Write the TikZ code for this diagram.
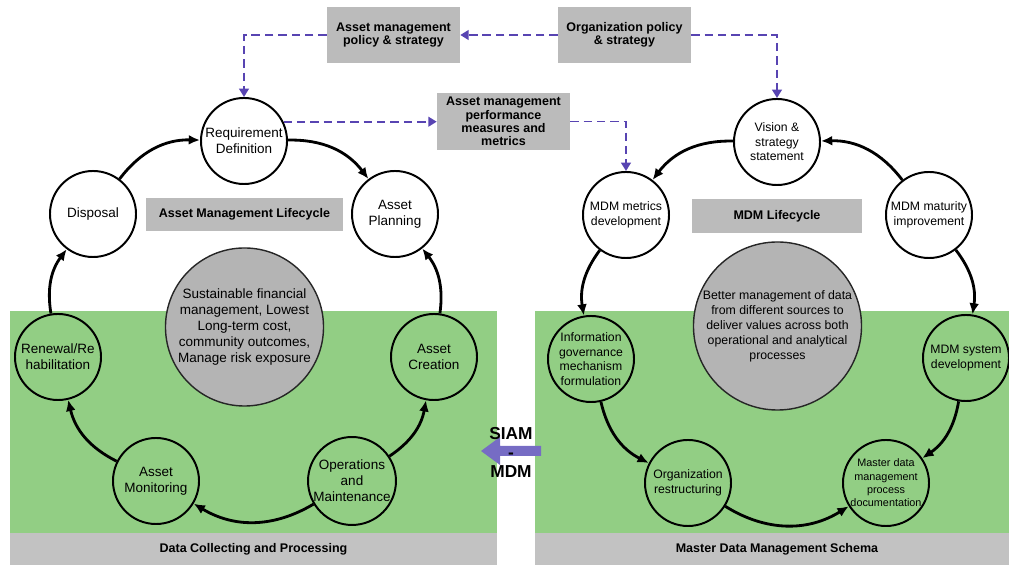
\documentclass[tikz,border=0pt]{standalone}
\usepackage{fontspec}
\setmainfont{Liberation Sans}
\usetikzlibrary{arrows.meta}

\definecolor{panelgreen}{RGB}{146,206,132}
\definecolor{tagfill}{RGB}{187,187,187}
\definecolor{stripfill}{RGB}{194,194,194}
\definecolor{goalfill}{RGB}{180,180,180}
\definecolor{policyblue}{RGB}{88,68,178}
\definecolor{siamblue}{RGB}{118,108,196}

\tikzset{
  stage/.style={circle,draw,line width=1.4pt,inner sep=0pt,minimum size=2.15cm,
    align=center,font=\fontsize{9.6}{11.4}\selectfont},
  mstage/.style={stage,font=\fontsize{8.7}{10.4}\selectfont},
  goal/.style={circle,draw=black!85,line width=1pt,fill=goalfill,inner sep=0pt,align=center},
  tag/.style={fill=tagfill,inner sep=0pt,align=center,font=\bfseries\fontsize{8.9}{9.5}\selectfont},
  stripname/.style={font=\bfseries\fontsize{8.9}{9.5}\selectfont},
  flow/.style={line width=2pt,-{Latex[length=8pt,width=7pt]}},
  policyline/.style={policyblue,line width=1.3pt,dash pattern=on 6pt off 3.5pt,
    -{Triangle[length=6pt,width=7pt]}}
}

\begin{document}
\begin{tikzpicture}[x=0.025cm,y=0.025cm]
\useasboundingbox (0,0) rectangle (1009,565);

\fill[panelgreen] (10,32) rectangle (497,254);
\fill[panelgreen] (535,32) rectangle (1009,254);
\fill[stripfill] (10,0) rectangle (497,32);
\fill[stripfill] (535,0) rectangle (1009,32);
\node (dcp) [stripname] at (253.5,16) {Data Collecting and Processing};
\node (mdms) [stripname] at (777,16) {Master Data Management Schema};

\node (ampol) [tag,minimum width=3.325cm,minimum height=1.4cm] at (393.5,530)
  {Asset management\\policy \& strategy};
\node (orgpol) [tag,minimum width=3.325cm,minimum height=1.4cm] at (624.5,530)
  {Organization policy\\\& strategy};
\node (amperf) [tag,minimum width=3.325cm,minimum height=1.425cm] at (503.5,443.5)
  {Asset management\\performance\\measures and\\metrics};
\node (amlc) [tag,minimum width=4.925cm,minimum height=0.825cm] at (244.5,350.5)
  {Asset Management Lifecycle};
\node (mdmlc) [tag,minimum width=4.25cm,minimum height=0.85cm] at (777,349)
  {MDM Lifecycle};

\node (amgoal) [goal,minimum size=3.95cm,font=\fontsize{9.6}{11.4}\selectfont] at (244.5,238)
  {Sustainable financial\\management, Lowest\\Long-term cost,\\community outcomes,\\Manage risk exposure};
\node (mdgoal) [goal,minimum size=4.2cm,font=\fontsize{8.75}{10.7}\selectfont] at (777.5,239)
  {Better management of data\\from different sources to\\deliver values across both\\operational and analytical\\processes};

\node (req) [stage] at (244,424) {Requirement\\Definition};
\node (disp) [stage] at (93,351) {Disposal};
\node (plan) [stage] at (395,351) {Asset\\Planning};
\node (renew) [stage] at (58,208) {Renewal/Re\\habilitation};
\node (creat) [stage] at (434,208) {Asset\\Creation};
\node (monit) [stage] at (156,84) {Asset\\Monitoring};
\node (opmt) [stage] at (352,84) {Operations\\and\\Maintenance};

\node (vis) [mstage] at (777,423) {Vision \&\\strategy\\statement};
\node (mmet) [mstage] at (626,350) {MDM metrics\\development};
\node (mmat) [mstage] at (929,350) {MDM maturity\\improvement};
\node (igov) [mstage] at (591,206) {Information\\governance\\mechanism\\formulation};
\node (msys) [mstage] at (966,207) {MDM system\\development};
\node (orgr) [mstage] at (688,82) {Organization\\restructuring};
\node (mdoc) [mstage,font=\fontsize{7.7}{9.5}\selectfont] at (886,82)
  {Master data\\management\\process\\documentation};

\draw[flow] (disp) to[bend left=27] (req);
\draw[flow] (req) to[bend left=27] (plan);
\draw[flow] (creat) to[bend right=23] (plan);
\draw[flow] (opmt) to[bend right=23] (creat);
\draw[flow] (opmt) to[bend left=31] (monit);
\draw[flow] (monit) to[bend left=25] (renew);
\draw[flow] (renew) to[bend left=23] (disp);

\draw[flow] (vis) to[bend right=27] (mmet);
\draw[flow] (mmat) to[bend right=27] (vis);
\draw[flow] (mmet) to[bend right=23] (igov);
\draw[flow] (igov) to[bend right=25] (orgr);
\draw[flow] (orgr) to[bend right=32] (mdoc);
\draw[flow] (mmat) to[bend left=23] (msys);
\draw[flow] (msys) to[bend left=23] (mdoc);

\draw[policyline] (orgpol) -- (ampol);
\draw[policyline] (ampol.west) -| (req.north);
\draw[policyline] (orgpol.east) -| (vis.north);
\draw[policyline] (req.26) -- (req.26 -| amperf.west);
\draw[policyline] (amperf.east) -| (mmet.north);

\fill[siamblue] (541,109) -- (500,109) -- (500,100) -- (481,114)
  -- (500,128) -- (500,119) -- (541,119) -- cycle;
\node (siam) [align=center,font=\bfseries\fontsize{12.3}{13.5}\selectfont] at (511,113)
  {SIAM\\-\\MDM};
\end{tikzpicture}
\end{document}
